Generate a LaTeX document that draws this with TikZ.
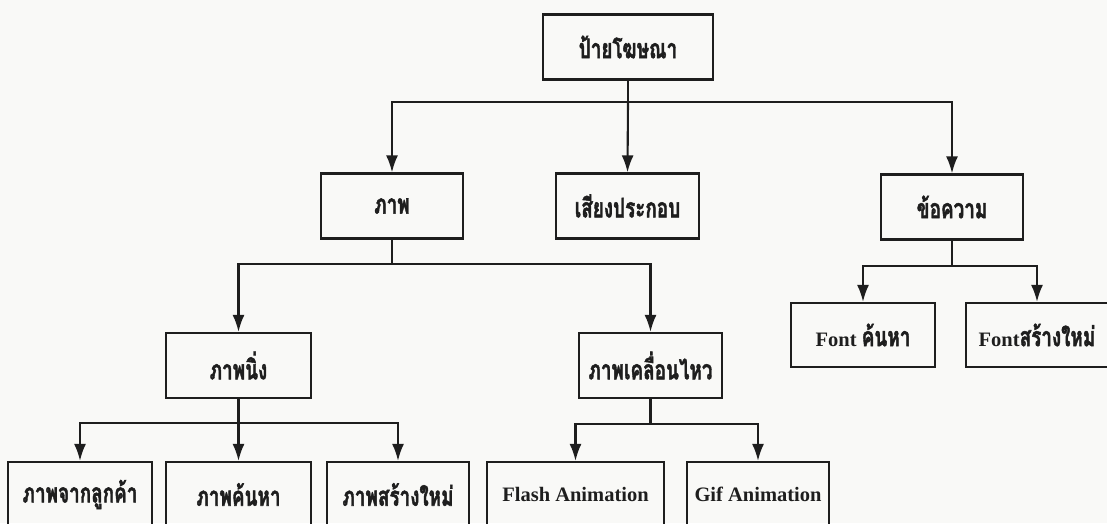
\documentclass[tikz,border=0pt]{standalone}
\usepackage{graphicx}
\usepackage{fontspec}
\setmainfont{Liberation Serif}
\newfontfamily\thaifont[Script=Thai,FakeBold=2]{Loma}
\usetikzlibrary{arrows.meta}
% Thai labels: heavy, narrow setting
\newcommand\thaitext[1]{\scalebox{0.7}[1]{\fontsize{27}{29}\thaifont #1}}
\definecolor{ink}{HTML}{1E1E1E}
\definecolor{paper}{HTML}{F9F9F7}
\begin{document}
\begin{tikzpicture}[x=1pt,y=-1pt,
  box/.style={draw=ink,line width=2.2pt,inner sep=0pt,minimum height=65pt,
    font=\fontsize{20.5}{22}\selectfont\bfseries,text=ink},
  link/.style={draw=ink,line width=2.1pt},
  arr/.style={link,-{Latex[length=17pt,width=12pt]}}]
\fill[paper] (0,0) rectangle (1107,523);
\useasboundingbox (0,0) rectangle (1107,523);

% level 0
\node[box,minimum width=170pt] (ad) at (628,47) {\thaitext{ป้ายโฆษณา}};
% level 1
\node[box,minimum width=142pt] (pic) at (392,206) {\thaitext{ภาพ}};
\node[box,minimum width=143pt] (snd) at (627.5,206) {\thaitext{เสียงประกอบ}};
\node[box,minimum width=142pt] (txt) at (952,207) {\thaitext{ข้อความ}};
% level 2
\node[box,minimum width=145pt] (still) at (238.5,365.5) {\thaitext{ภาพนิ่ง}};
\node[box,minimum width=143pt] (anim) at (650.5,365.5) {\thaitext{ภาพเคลื่อนไหว}};
\node[box,minimum width=144pt,minimum height=64pt] (fsearch) at (863,335) {Font \thaitext{ค้นหา}};
\node[box,minimum width=142pt,minimum height=64pt] (fnew) at (1037,335) {Font\thaitext{สร้างใหม่}};
% level 3
\node[box,minimum width=144pt] (cust) at (80,494.5) {\thaitext{ภาพจากลูกค้า}};
\node[box,minimum width=145pt] (srch) at (238.5,494.5) {\thaitext{ภาพค้นหา}};
\node[box,minimum width=142pt] (made) at (398,494.5) {\thaitext{ภาพสร้างใหม่}};
\node[box,minimum width=177pt] (flash) at (575.5,494.5) {Flash Animation};
\node[box,minimum width=142pt] (gif) at (758,494.5) {Gif Animation};

% connectors
\draw[link] (ad.south) -- ++(0,21) coordinate (b0);
\draw[arr] (b0) -| (pic.north);
\draw[arr] (b0) -- (snd.north);
\draw[arr] (b0) -| (txt.north);

\draw[link] (pic.south) -- ++(0,24) coordinate (b1);
\draw[arr] (b1) -| (still.north);
\draw[arr] (b1) -| (anim.north);

\draw[link] (txt.south) -- ++(0,25) coordinate (b2);
\draw[arr] (b2) -| (fsearch.north);
\draw[arr] (b2) -| (fnew.north);

\draw[link] (still.south) -- ++(0,24) coordinate (b3);
\draw[arr] (b3) -| (cust.north);
\draw[arr] (b3) -- (srch.north);
\draw[arr] (b3) -| (made.north);

\draw[link] (anim.south) -- ++(0,25) coordinate (b4);
\draw[arr] (b4) -| (flash.north);
\draw[arr] (b4) -| (gif.north);
\end{tikzpicture}
\end{document}
